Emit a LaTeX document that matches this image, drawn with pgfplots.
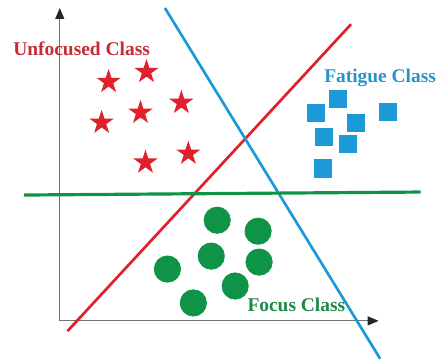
\documentclass[border=0pt]{standalone}
\usepackage{fontspec}
\setmainfont{Liberation Serif}
\usepackage{pgfplots}
\pgfplotsset{compat=1.18}
\usetikzlibrary{arrows.meta}

\definecolor{cred}{HTML}{E0202A}
\definecolor{cblue}{HTML}{1C9AD8}
\definecolor{cgreen}{HTML}{0F9447}
\definecolor{tred}{HTML}{C92B36}
\definecolor{tblue}{HTML}{2A92C8}
\definecolor{tgreen}{HTML}{1E8A47}

% filled five-pointed star
\pgfdeclareplotmark{fstar}{%
  \pgfpathmoveto{\pgfqpointpolar{90}{\pgfplotmarksize}}%
  \foreach \a in {1,...,9}{%
    \pgfmathsetmacro\ang{90+36*\a}%
    \ifodd\a
      \pgfpathlineto{\pgfpointpolar{\ang}{0.382\pgfplotmarksize}}%
    \else
      \pgfpathlineto{\pgfpointpolar{\ang}{\pgfplotmarksize}}%
    \fi}%
  \pgfpathclose
  \pgfusepathqfill}

\begin{document}
\begin{tikzpicture}
\begin{axis}[
  scale only axis, width=160bp, height=157bp,
  xmin=60, xmax=380, ymin=38, ymax=352,
  axis lines=left, clip=false,
  xtick=\empty, ytick=\empty,
  axis line style={draw=black!55, line width=0.5pt,
    -{Triangle[length=5.5bp, width=4.5bp, color=black!85]}},
]
% bounding frame of the whole picture
\path (axis cs:0,0) rectangle (axis cs:436,360);

% separating lines
\addplot[cred, line width=1.35bp] coordinates {(67.7,27.7) (352.3,335.7)};
\addplot[cblue, line width=1.35bp] coordinates {(165.5,352) (381.5,0)};
\addplot[cgreen, line width=1.6bp] coordinates {(24,164.3) (422,167.3)};

% unfocused class
\addplot[only marks, mark=fstar, mark size=6.4bp, color=cred] coordinates
  {(109,278) (147,288) (102,237) (141,247) (182,257) (146,197) (189,206)};
% fatigue class
\addplot[only marks, mark=square*, mark size=4.3bp, color=cblue, fill=cblue] coordinates
  {(317,247) (339,261) (357,237) (389,248) (325,223) (349,216) (324,191)};
% focus class
\addplot[only marks, mark=*, mark size=6.6bp, color=cgreen, fill=cgreen] coordinates
  {(218,139) (259,128) (212,103) (260,97) (168,90) (236,73) (194,56)};

\node[anchor=base west, inner sep=0pt, text=tred, font=\fontsize{9.75bp}{11bp}\selectfont\bfseries]
  at (axis cs:13,304) {Unfocused Class};
\node[anchor=base west, inner sep=0pt, text=tblue, font=\fontsize{9.75bp}{11bp}\selectfont\bfseries]
  at (axis cs:325,277) {Fatigue Class};
\node[anchor=base west, inner sep=0pt, text=tgreen, font=\fontsize{9.75bp}{11bp}\selectfont\bfseries]
  at (axis cs:248,47) {Focus Class};
\end{axis}
\end{tikzpicture}
\end{document}
